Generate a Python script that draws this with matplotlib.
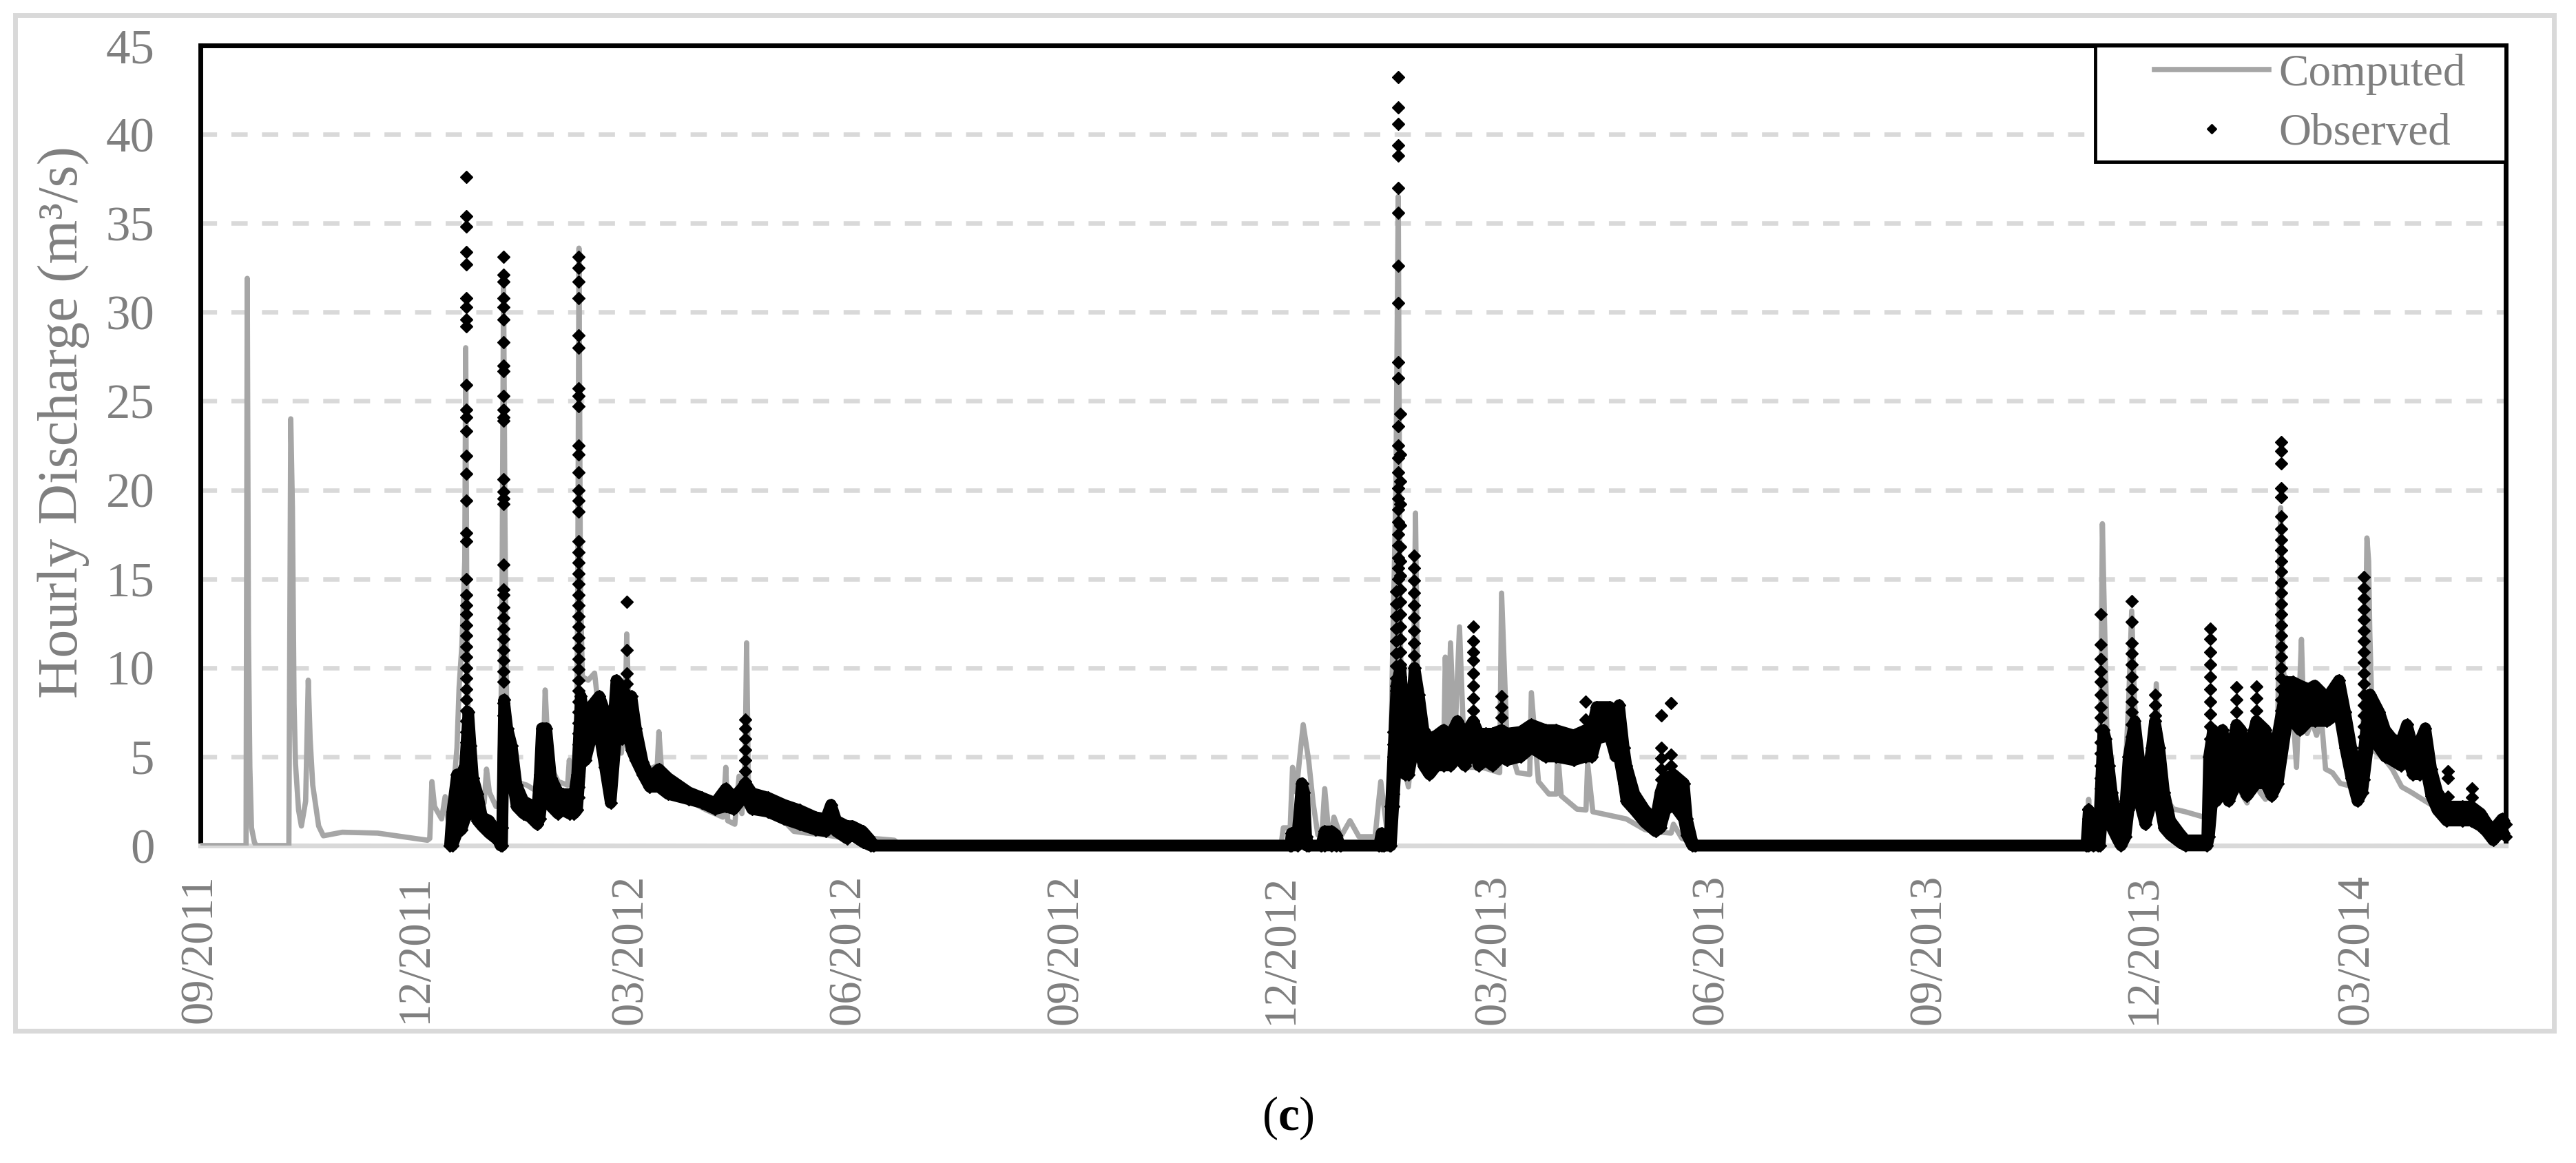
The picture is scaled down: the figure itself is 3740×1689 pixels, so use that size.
import matplotlib
matplotlib.use("Agg")
import matplotlib.pyplot as plt
import matplotlib.dates as mdates
from matplotlib.lines import Line2D
from matplotlib.patches import Rectangle
from matplotlib.legend_handler import HandlerLine2D
import numpy as np
import pandas as pd

# === Data (days since 2011-09-01, discharge m3/s) ===
START = pd.Timestamp("2011-09-01")
END_DAY = 975

# computed hydrograph vertices (day, Q)
computed = [
    (0, 0), (19.3, 0), (19.8, 31.9), (20.3, 12.0), (20.9, 4.4), (21.6, 1.0), (22.8, 0.2), (23.5, 0),
    (37.4, 0), (38.2, 24.0), (38.9, 19.0), (39.6, 8.0), (40.2, 4.6), (41.5, 2.0), (42.7, 1.1),
    (44.5, 2.5), (45.6, 9.3), (46.4, 6.0), (47.5, 3.4), (50.0, 1.1), (52.0, 0.55), (60.0, 0.75),
    (75.0, 0.7), (96.0, 0.3), (97.0, 0.4), (97.9, 3.6), (99.0, 2.2), (102.0, 1.5), (103.5, 2.75),
    (104.8, 1.4), (106.5, 1.5), (107.5, 3.9), (108.5, 5.5), (109.4, 8.9), (110.6, 11.3),
    (111.8, 16.0), (112.2, 28.0), (112.7, 12.0), (113.3, 6.3), (114.3, 4.5), (115.3, 3.2),
    (117.2, 2.4), (120.0, 2.4), (121.0, 4.3), (122.2, 3.0), (125.0, 2.2), (126.7, 2.5),
    (127.5, 12.0), (128.2, 32.0), (128.8, 18.0), (129.5, 7.8), (131.0, 5.0), (133.0, 3.6),
    (138.0, 3.4), (143.0, 3.0), (144.0, 5.4), (144.8, 3.6), (145.8, 8.75), (147.0, 5.5),
    (149.0, 4.2), (151.3, 3.6), (155.3, 3.4), (156.0, 4.8), (157.0, 3.4), (159.0, 3.2),
    (159.6, 15.0), (160.1, 33.6), (160.7, 15.0), (161.5, 9.5), (164.0, 9.3), (166.7, 9.7),
    (167.7, 8.5), (169.0, 8.2), (172.5, 6.0), (175.0, 5.5), (178.0, 5.2), (179.6, 7.0),
    (180.3, 11.9), (181.0, 8.6), (183.0, 6.0), (186.0, 5.0), (190.0, 4.3), (193.2, 4.5),
    (193.9, 6.4), (195.0, 4.3), (199.0, 3.6), (207.0, 2.5), (214.0, 2.0), (221.0, 1.6),
    (222.2, 4.4), (223.0, 1.4), (226.0, 1.2), (227.8, 3.9), (229.0, 1.8), (230.4, 5.0),
    (231.0, 11.4), (231.8, 3.0), (233.3, 2.4), (235.5, 2.0), (240.0, 1.7), (246.7, 1.4),
    (251.0, 0.8), (256.6, 0.7), (264.5, 0.6), (273.4, 0.4), (284.6, 0.4), (293.5, 0.3),
    (296.0, 0.0),
    (457.0, 0.0), (458.0, 1.0), (460.9, 1.0), (461.9, 4.4), (463.5, 3.0), (464.8, 4.8),
    (466.4, 6.8), (468.7, 4.8), (470.6, 2.4), (472.6, 0.6), (474.5, 1.0), (475.5, 3.2),
    (477.0, 1.0), (478.4, 0.6), (479.4, 1.6), (482.3, 0.5), (486.2, 1.4), (490.0, 0.5),
    (496.8, 0.5), (499.2, 3.6), (501.7, 1.0), (503.2, 3.0), (504.1, 10.0), (505.6, 20.0),
    (506.6, 36.5), (507.3, 14.0), (508.2, 5.0), (510.9, 3.3), (512.8, 6.0), (513.9, 18.7),
    (514.8, 8.0), (516.8, 4.7), (522.8, 4.3), (525.8, 5.0), (526.5, 10.6), (527.5, 5.0),
    (528.7, 11.4), (530.4, 5.5), (532.5, 12.3), (534.7, 4.4), (542.1, 4.4), (549.5, 4.1),
    (550.3, 14.2), (552.5, 6.2), (557.0, 4.1), (562.2, 4.0), (562.9, 8.6), (565.9, 3.6),
    (570.3, 2.9), (573.5, 2.9), (574.0, 5.3), (575.5, 2.8), (582.2, 2.05), (586.0, 2.0),
    (586.7, 4.6), (588.9, 1.9), (603.0, 1.5), (610.9, 0.9), (617.8, 0.75), (622.0, 0.7),
    (623.0, 1.2), (626.6, 0.4), (632.0, 0.2), (638.8, 0.0),
    (797.0, 0.0), (797.8, 0.3), (798.6, 2.6), (799.5, 0.5), (800.6, 0.3), (802.5, 0.95),
    (803.8, 8.0), (804.4, 18.1), (805.8, 9.6), (806.8, 3.0), (807.8, 1.0), (812.3, 0.1),
    (814.2, 4.5), (815.5, 8.0), (816.8, 13.2), (818.0, 8.0), (819.3, 6.0), (824.0, 3.4),
    (826.2, 4.5), (827.2, 9.1), (828.5, 4.5), (830.5, 2.8), (834.4, 2.06), (839.5, 1.9),
    (847.4, 1.6), (850.0, 1.35), (850.7, 5.9), (852.0, 3.5), (855.0, 4.5), (857.8, 2.4),
    (861.1, 6.4), (863.0, 3.0), (865.6, 2.4), (869.5, 5.0), (871.0, 3.0), (873.4, 2.6),
    (876.0, 4.0), (878.6, 7.0), (879.8, 19.0), (880.8, 10.0), (882.5, 8.3), (885.0, 7.6),
    (886.5, 4.4), (888.6, 11.6), (889.5, 7.4), (891.0, 6.3), (893.0, 7.0), (895.0, 6.2),
    (897.0, 7.2), (898.8, 4.3), (901.7, 4.1), (905.0, 3.5), (910.5, 3.3), (913.4, 2.75),
    (915.5, 10.0), (916.3, 17.3), (917.0, 16.0), (917.5, 12.0), (918.3, 8.2), (919.5, 5.3),
    (923.0, 5.0), (927.0, 4.3), (931.0, 3.3), (935.0, 3.0), (941.0, 2.5), (946.0, 2.1),
    (956.0, 2.0), (964.0, 1.6), (968.3, 0.8), (975.0, 0.6),
]

# observed hourly record read as a band: (day, lowest, highest)
observed_band = [
    (105.5, 0, 0), (106.5, 0, 1.9), (108.5, 0.7, 4.0), (110.4, 0.9, 4.0), (111.9, 1.5, 4.5),
    (113.3, 4.4, 7.5), (114.3, 3.9, 5.6), (115.3, 2.2, 3.8), (117.2, 1.4, 2.9), (119.1, 1.1, 1.6),
    (122.1, 0.7, 1.4), (124.0, 0.5, 1.0), (125.9, 0.3, 0.6), (126.9, 0, 0.1), (127.6, 0, 1.0),
    (128.4, 6.8, 8.2), (129.8, 5.3, 6.6), (131.7, 3.9, 5.6), (133.7, 2.2, 3.4), (136.6, 1.8, 2.5),
    (139.5, 1.6, 2.3), (142.5, 1.2, 2.1), (143.5, 1.5, 4.0), (144.4, 2.6, 6.6), (146.3, 3.5, 6.6),
    (148.3, 2.2, 3.8), (151.2, 1.8, 3.0), (153.1, 2.0, 2.9), (156.0, 1.8, 2.9), (158.0, 1.8, 2.8),
    (159.3, 2.0, 4.0), (160.9, 4.8, 8.4), (162.8, 4.8, 6.6), (165.7, 6.3, 7.9), (168.7, 6.3, 8.4),
    (171.1, 4.4, 7.5), (173.5, 2.4, 4.7), (175.9, 6.3, 9.3), (178.4, 6.0, 8.9), (180.3, 6.8, 8.4),
    (182.3, 5.4, 8.4), (184.2, 4.8, 6.6), (187.1, 4.0, 4.7), (190.0, 3.3, 3.8), (193.9, 3.3, 4.3),
    (197.8, 2.9, 3.8), (206.5, 2.6, 3.0), (212.1, 2.4, 2.7), (217.7, 2.05, 2.4), (222.2, 2.2, 3.2),
    (225.5, 2.05, 2.7), (228.9, 2.6, 3.2), (230.5, 2.8, 3.5), (233.3, 2.05, 2.95), (240.0, 1.9, 2.7),
    (246.7, 1.5, 2.3), (253.3, 1.2, 2.0), (260.0, 0.9, 1.6), (264.5, 0.8, 1.5), (266.7, 1.2, 2.3),
    (268.9, 0.8, 1.4), (273.4, 0.4, 1.1), (275.6, 0.6, 1.1), (280.1, 0.2, 0.8), (283.4, 0, 0.3),
    (284.6, 0, 0),
    (460.9, 0, 0), (461.5, 0, 0.7), (464.0, 0, 0.7), (465.8, 0.5, 3.5), (466.8, 0.5, 3.0),
    (467.7, 0, 0.5), (468.7, 0, 0), (474.0, 0, 0), (475.5, 0, 0.8), (478.4, 0, 0.8),
    (480.3, 0, 0.6), (482.0, 0, 0), (498.5, 0, 0), (499.5, 0, 0.7), (500.5, 0, 0),
    (503.0, 0, 0), (503.5, 0, 2.2), (505.8, 5.0, 9.0), (507.5, 5.6, 10.0), (509.5, 4.0, 7.0),
    (511.0, 4.0, 6.5), (512.4, 5.0, 8.0), (513.5, 7.0, 10.0), (515.3, 5.5, 8.5), (517.3, 4.5, 6.5),
    (519.8, 4.0, 6.0), (522.8, 4.5, 6.2), (525.8, 4.5, 6.5), (528.7, 4.5, 6.2), (531.6, 5.0, 7.0),
    (534.7, 4.5, 6.2), (538.3, 5.5, 7.0), (540.6, 4.5, 6.3), (543.6, 4.8, 6.3), (546.5, 4.5, 6.3),
    (550.3, 5.0, 6.5), (552.5, 4.8, 6.3), (558.4, 5.0, 6.4), (562.9, 5.5, 6.8), (568.9, 5.0, 6.5),
    (573.2, 5.0, 6.5), (580.8, 4.8, 6.2), (585.9, 5.0, 6.5), (588.5, 5.0, 6.5), (590.5, 6.0, 7.8),
    (596.0, 6.2, 7.8), (598.5, 5.0, 7.5), (600.0, 5.0, 7.9), (602.0, 3.5, 5.5), (603.1, 2.5, 4.5),
    (606.5, 2.0, 2.9), (610.9, 1.3, 2.0), (615.4, 0.8, 1.4), (617.5, 1.0, 3.0), (619.6, 2.0, 3.8),
    (623.0, 2.3, 4.0), (627.4, 1.5, 3.5), (628.7, 0.6, 1.5), (631.0, 0, 0.2), (632.0, 0, 0),
    (797.6, 0, 0), (798.6, 0, 2.0), (800.6, 0, 0.3), (802.5, 0, 0.2), (803.3, 0, 2.0),
    (804.8, 2.5, 6.5), (805.8, 2.5, 6.0), (807.1, 1.8, 4.5), (808.4, 1.0, 3.0), (811.0, 0.3, 1.0),
    (812.3, 0, 0.2), (814.2, 0.5, 2.5), (815.5, 2.0, 5.0), (818.1, 3.0, 7.0), (820.0, 2.5, 4.8),
    (822.6, 1.2, 3.0), (825.3, 2.5, 5.5), (826.6, 4.0, 7.0), (828.5, 2.5, 5.5), (830.5, 1.0, 3.0),
    (833.1, 0.6, 1.4), (837.0, 0.2, 0.7), (839.5, 0, 0.3), (848.7, 0, 0.3), (849.5, 0.5, 5.0),
    (851.2, 3.0, 6.5), (852.6, 2.5, 5.5), (855.2, 3.5, 6.5), (857.8, 2.5, 4.5), (861.1, 3.5, 6.8),
    (863.0, 3.5, 6.5), (865.6, 2.8, 5.0), (869.5, 3.5, 7.0), (873.4, 3.5, 6.5), (876.0, 2.8, 4.5),
    (878.6, 3.5, 6.3), (882.5, 7.0, 9.2), (885.0, 7.0, 9.2), (888.0, 6.5, 9.0), (891.6, 7.0, 8.8),
    (894.2, 7.0, 9.0), (899.4, 7.0, 8.3), (904.5, 7.5, 9.3), (907.1, 5.5, 7.5), (909.7, 3.8, 5.5),
    (912.3, 2.5, 4.0), (914.3, 3.0, 4.5), (917.6, 6.5, 8.5), (921.5, 5.5, 7.5), (924.0, 5.0, 6.5),
    (927.0, 4.8, 6.0), (930.6, 4.5, 5.8), (933.2, 5.0, 6.8), (935.8, 4.0, 5.5), (938.5, 4.0, 5.8),
    (941.0, 4.5, 6.6), (943.5, 2.8, 4.3), (946.1, 2.0, 3.0), (950.0, 1.4, 2.2), (956.6, 1.4, 2.2),
    (960.4, 1.4, 2.2), (964.4, 1.1, 1.8), (966.8, 0.8, 1.3), (969.7, 0.3, 0.8), (971.0, 0.5, 1.1),
    (973.5, 0.8, 1.5), (975.0, 0.5, 1.2),
]

# observed hours standing apart from the band (flood peaks): (day, [Q values])
observed_spikes = [
    (112.3, [37.6, 35.4, 34.8, 33.4, 32.7, 30.8, 30.3, 29.6, 29.2, 25.9, 24.5, 24.1, 23.3, 21.9,
             20.9, 19.4, 17.6, 17.1, 15.0, 14.1, 13.5, 13.0, 12.4, 11.8, 11.2, 10.6, 10.0, 9.4,
             8.8, 8.2, 7.6, 7.0, 6.4, 5.8, 5.2]),
    (128.1, [33.1, 32.1, 31.7, 30.8, 30.3, 29.6, 28.3, 27.0, 26.7, 25.3, 24.5, 24.1, 23.9, 20.6,
             19.9, 19.5, 19.2, 15.8, 14.4, 14.1, 13.4, 12.8, 12.2, 11.6, 11.0, 10.4, 9.8, 9.2,
             8.0, 7.3]),
    (160.0, [33.1, 32.5, 31.7, 30.8, 28.7, 28.0, 25.7, 25.3, 24.7, 22.5, 22.0, 21.0, 20.0, 19.4,
             18.8, 17.1, 16.5, 15.9, 15.3, 14.7, 14.1, 13.5, 12.9, 12.3, 11.7, 11.1, 10.5, 9.9,
             9.3, 8.7, 8.1, 7.5, 6.9, 6.3, 5.7, 5.1, 4.5, 3.9, 3.3, 2.7]),
    (180.3, [13.7, 11.0, 9.7, 9.1]),
    (230.4, [7.1, 6.6, 6.0, 5.4, 4.8, 4.2, 3.6]),
    (466.2, [1.0, 1.6, 2.2, 2.8, 3.5]),
    (504.6, [2.2, 2.9, 3.6, 4.3, 5.0, 5.7, 6.4]),
    (505.6, [6.6, 7.3, 8.0, 8.7, 9.4, 10.1, 10.8, 11.5, 12.2, 12.9, 13.6, 14.3]),
    (506.7, [43.2, 41.5, 40.6, 39.4, 38.8, 37.0, 35.6, 32.6, 30.5, 27.2, 26.3, 23.6, 22.5, 21.8,
             21.0, 20.1, 19.5, 18.9, 18.2, 17.5, 16.9, 16.2, 15.6, 15.0]),
    (507.4, [24.3, 22.0, 20.5, 19.2, 18.0, 16.8, 16.0, 15.2, 14.4, 13.7, 13.0, 12.3, 11.6, 10.9,
             10.2, 9.5, 8.8, 8.1, 7.4, 6.7, 6.0]),
    (513.3, [16.3, 15.6, 14.9, 14.2, 13.5, 12.8, 12.1, 11.4, 10.7, 10.0, 9.3, 8.6]),
    (538.3, [12.3, 11.5, 10.9, 10.4, 9.7, 9.0, 8.3, 7.6, 7.0]),
    (550.3, [8.4, 7.8, 7.2]),
    (585.9, [8.1, 7.1]),
    (617.9, [7.3, 5.5, 4.9, 4.3, 3.7]),
    (622.0, [8.0, 5.1, 4.5, 3.9]),
    (798.6, [0.5, 1.0, 1.5, 2.05]),
    (803.8, [13.0, 11.3, 10.5, 9.8, 9.2, 8.5, 7.8, 7.2, 6.5, 5.8, 5.2, 4.5, 3.8, 3.2, 2.5, 1.8]),
    (804.5, [1.35]),
    (816.8, [13.75, 12.6, 11.4, 10.8, 10.2, 9.5, 8.8, 8.1, 7.5, 6.8, 6.1, 5.4]),
    (826.6, [8.5, 7.9, 7.3, 6.6]),
    (850.0, [12.2, 11.6, 10.9, 10.2, 9.5, 8.8, 8.1, 7.4, 6.7, 6.0, 5.3, 4.6]),
    (861.1, [8.9, 8.2, 7.5]),
    (869.5, [8.95, 8.3, 7.6]),
    (879.9, [22.7, 22.2, 21.5, 20.1, 19.6, 18.5, 17.8, 17.2, 16.6, 16.0, 15.4, 14.8, 14.2, 13.6,
             13.0, 12.4, 11.8, 11.2, 10.6, 10.0, 9.4, 8.8, 8.2, 7.6, 7.0]),
    (915.0, [15.1, 14.5, 13.9, 13.3, 12.7, 12.1, 11.5, 10.9, 10.3, 9.7, 9.1, 8.5, 7.9, 7.3,
             6.7, 6.1, 5.5, 4.9, 4.3, 3.7]),
    (950.5, [4.2, 3.8, 2.75]),
    (960.6, [3.2, 2.7]),
]

y_ticks = [0, 5, 10, 15, 20, 25, 30, 35, 40, 45]
x_tick_dates = ["2011-09-01", "2011-12-01", "2012-03-01", "2012-06-01", "2012-09-01",
                "2012-12-01", "2013-03-01", "2013-06-01", "2013-09-01", "2013-12-01",
                "2014-03-01"]


def to_dates(days):
    return START + pd.to_timedelta(np.asarray(days, dtype=float), unit="D")


comp_days, comp_q = zip(*computed)
obs_days, obs_lo, obs_hi = zip(*observed_band)
spk_days = np.concatenate([[d] * len(v) for d, v in observed_spikes])
spk_q = np.concatenate([v for d, v in observed_spikes])

# === Style ===
plt.rcParams['font.family'] = ['Liberation Serif', 'DejaVu Serif']
plt.rcParams['mathtext.fontset'] = 'custom'
plt.rcParams['mathtext.rm'] = 'Liberation Serif'
plt.rcParams['mathtext.bf'] = 'Liberation Serif:bold'
plt.rcParams['lines.scale_dashes'] = False

GREY_TXT = '#7f7f7f'
GREY_LINE = '#a6a6a6'
GRID = '#d9d9d9'
W, H = 3740, 1689

fig = plt.figure(figsize=(W / 100, H / 100), dpi=100)
fig.patch.set_facecolor('white')
fig.patches.append(Rectangle((22 / W, 1 - 1497 / H), (3708 - 22) / W, (1497 - 22) / H,
                             transform=fig.transFigure, fill=False, ec=GRID, lw=5))

ax = fig.add_axes([291 / W, 1 - 1228 / H, 3347 / W, 1162 / H])

# === Plot ===
ax.plot(to_dates(comp_days), comp_q, color=GREY_LINE, lw=5.5, zorder=3,
        solid_joinstyle='round', solid_capstyle='round')

od = to_dates(obs_days)
ax.fill_between(od, obs_lo, obs_hi, color='black', lw=0, zorder=4)
for edge in (obs_lo, obs_hi):
    ax.plot(od, edge, color='black', lw=12, zorder=4, clip_on=False,
            solid_joinstyle='round', solid_capstyle='butt')
    ax.plot(od, edge, ls='none', marker='D', ms=9.5, color='black', zorder=4, clip_on=False)
ax.plot(to_dates(spk_days), spk_q, ls='none', marker='D', ms=9.5, color='black',
        zorder=5, clip_on=False)

# === Axes ===
ax.set_ylim(0, 45)
ax.set_xlim(START, START + pd.Timedelta(days=END_DAY))
ax.set_yticks(y_ticks)
ax.set_xticks(pd.to_datetime(x_tick_dates))
ax.xaxis.set_major_formatter(mdates.DateFormatter('%m/%Y'))
ax.tick_params(axis='y', length=0, pad=48, labelsize=51, labelcolor=GREY_TXT)
ax.tick_params(axis='x', length=0, pad=30, labelsize=48, labelcolor=GREY_TXT, labelrotation=90)

ax.set_axisbelow(True)
ax.yaxis.grid(True, color=GRID, lw=4.7, linestyle=(0, (17, 15)))
ax.xaxis.grid(False)
for side in ('left', 'top', 'right'):
    ax.spines[side].set_color('black')
    ax.spines[side].set_linewidth(5)
ax.spines['bottom'].set_color(GRID)
ax.spines['bottom'].set_linewidth(5)

fig.text(92 / W, 1 - 613 / H, 'Hourly Discharge (m³/s)', rotation=90, ha='center',
         va='center', fontsize=59, color=GREY_TXT)

# legend box spans the upper-right corner of the plot area
handles = [Line2D([], [], color=GREY_LINE, lw=5.5),
           Line2D([], [], ls='none', marker='D', ms=7.6, color='black')]
leg = ax.legend(handles, ['Computed', 'Observed'], loc='upper left',
                bbox_to_anchor=(0.822, 0.85, 0.178, 0.15), mode='expand',
                borderaxespad=0, fancybox=False,
                edgecolor='black', framealpha=1, prop={'size': 47},
                handlelength=3.67, handletextpad=0.23, labelspacing=0.4, borderpad=0.18,
                handler_map={h: HandlerLine2D(xpad=1.13) for h in handles})
leg.get_frame().set_linewidth(3.5)
leg.set_zorder(10)
for t in leg.get_texts():
    t.set_color(GREY_TXT)

fig.text(0.5, 1 - 1624 / H, r'($\mathbf{c}$)', ha='center', va='center', fontsize=50,
         color='black')

fig.savefig('out.png', dpi=100, facecolor='white')
